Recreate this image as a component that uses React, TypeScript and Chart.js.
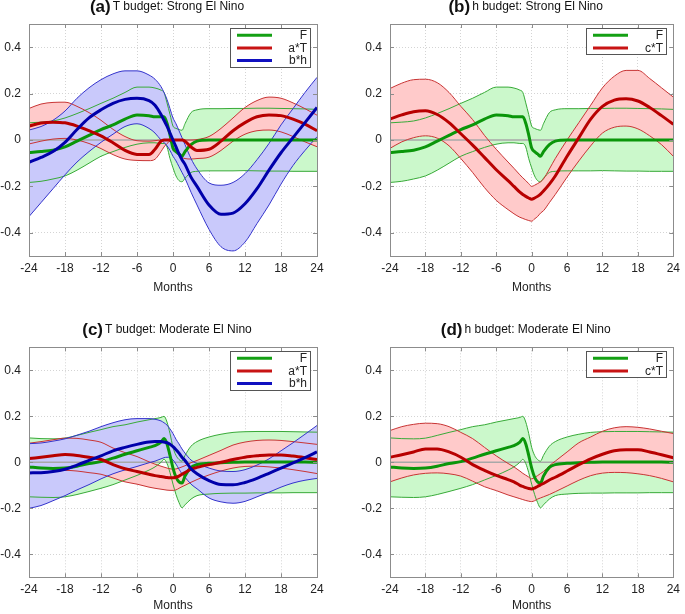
import React, { useEffect, useRef } from "react";
import { Chart, registerables } from "chart.js";
Chart.register(...registerables);

const FONT = '"Liberation Sans", Arial, Helvetica, sans-serif';

// ---------- data ----------
const months = [-24, -22, -20, -18, -16, -14, -12, -10, -8, -6, -4, -3, -2, -1.5, -1, -0.5, 0, 0.5, 1, 1.5, 2, 3, 4, 6, 8, 10, 12, 14, 16, 18, 20, 22, 24];
const xTicks = [-24, -18, -12, -6, 0, 6, 12, 18, 24];
const yTicks = [-0.4, -0.2, 0, 0.2, 0.4];

// Strong El Nino: forcing F (same in T and h budgets)
const fStrongMean = [-0.054, -0.05, -0.044, -0.03, -0.005, 0.02, 0.045, 0.065, 0.09, 0.108, 0.105, 0.1, 0.1, 0.1, 0.072, 0.022, -0.035, -0.05, -0.06, -0.07, -0.05, -0.02, -0.005, 0, 0, 0, 0, 0, 0, 0, 0, 0, 0];
const fStrongUpper = [0.074, 0.077, 0.082, 0.095, 0.114, 0.135, 0.158, 0.18, 0.205, 0.228, 0.228, 0.224, 0.215, 0.205, 0.16, 0.11, 0.06, 0.05, 0.045, 0.042, 0.07, 0.118, 0.13, 0.135, 0.135, 0.136, 0.136, 0.137, 0.137, 0.136, 0.135, 0.134, 0.132];
const fStrongLower = [-0.183, -0.178, -0.168, -0.155, -0.13, -0.1, -0.07, -0.05, -0.032, -0.018, -0.012, -0.012, -0.015, -0.015, -0.03, -0.08, -0.12, -0.155, -0.175, -0.18, -0.165, -0.14, -0.135, -0.133, -0.133, -0.133, -0.132, -0.133, -0.134, -0.134, -0.135, -0.135, -0.135];

// Strong El Nino: a*T (T budget)
const aTStrongMean = [0.06, 0.073, 0.077, 0.074, 0.06, 0.04, 0.018, -0.012, -0.045, -0.062, -0.063, -0.04, -0.005, 0, 0, 0, 0, 0, 0, 0, -0.005, -0.03, -0.045, -0.04, -0.005, 0.04, 0.075, 0.1, 0.108, 0.105, 0.09, 0.068, 0.04];
const aTStrongUpper = [0.136, 0.155, 0.162, 0.163, 0.145, 0.118, 0.085, 0.046, 0.015, -0.003, -0.005, -0.003, 0, 0, 0, 0, 0, 0, 0, 0, 0, 0, 0.002, 0.015, 0.05, 0.095, 0.14, 0.17, 0.185, 0.18, 0.16, 0.135, 0.107];
const aTStrongLower = [-0.017, -0.005, 0.004, 0.007, 0.0, -0.015, -0.037, -0.063, -0.082, -0.088, -0.089, -0.083, -0.05, -0.03, -0.015, -0.005, 0, -0.03, -0.06, -0.075, -0.08, -0.082, -0.08, -0.074, -0.045, -0.005, 0.025, 0.04, 0.043, 0.035, 0.015, -0.008, -0.029];

// Strong El Nino: b*h (T budget)
const bhStrongMean = [-0.096, -0.075, -0.05, -0.01, 0.045, 0.095, 0.13, 0.158, 0.175, 0.18, 0.17, 0.15, 0.11, 0.085, 0.06, 0.03, 0.0, -0.03, -0.06, -0.085, -0.105, -0.16, -0.2, -0.28, -0.32, -0.315, -0.275, -0.21, -0.13, -0.055, 0.01, 0.075, 0.14];
const bhStrongUpper = [0.043, 0.058, 0.085, 0.125, 0.18, 0.225, 0.26, 0.285, 0.298, 0.298, 0.28, 0.262, 0.23, 0.205, 0.175, 0.135, 0.095, 0.07, 0.04, 0.01, -0.02, -0.08, -0.125, -0.185, -0.195, -0.183, -0.145, -0.085, -0.015, 0.065, 0.135, 0.205, 0.27];
const bhStrongLower = [-0.33, -0.27, -0.21, -0.15, -0.095, -0.05, -0.01, 0.025, 0.058, 0.07, 0.05, 0.03, 0.0, -0.01, -0.025, -0.045, -0.07, -0.09, -0.115, -0.14, -0.165, -0.225, -0.28, -0.385, -0.46, -0.478, -0.44, -0.36, -0.28, -0.19, -0.11, -0.045, 0.014];

// Strong El Nino: c*T (h budget)
const cTStrongMean = [0.09, 0.108, 0.122, 0.126, 0.11, 0.075, 0.027, -0.022, -0.075, -0.128, -0.175, -0.2, -0.225, -0.235, -0.243, -0.25, -0.255, -0.25, -0.243, -0.233, -0.22, -0.19, -0.155, -0.07, 0.01, 0.09, 0.145, 0.172, 0.178, 0.168, 0.14, 0.105, 0.068];
const cTStrongUpper = [0.222, 0.245, 0.26, 0.262, 0.247, 0.205, 0.145, 0.088, 0.02, -0.04, -0.095, -0.122, -0.15, -0.163, -0.175, -0.188, -0.2, -0.195, -0.188, -0.18, -0.168, -0.125, -0.08, 0.0, 0.075, 0.15, 0.225, 0.275, 0.3, 0.3, 0.265, 0.225, 0.185];
const cTStrongLower = [-0.036, -0.008, 0.01, 0.018, 0.008, -0.025, -0.08, -0.14, -0.205, -0.26, -0.3, -0.318, -0.333, -0.338, -0.343, -0.347, -0.35, -0.34, -0.33, -0.315, -0.305, -0.27, -0.235, -0.16, -0.09, -0.025, 0.03, 0.055, 0.06, 0.048, 0.018, -0.02, -0.07];

// Moderate El Nino: forcing F
const fModMean = [-0.02, -0.025, -0.027, -0.025, -0.017, -0.005, 0.003, 0.018, 0.035, 0.05, 0.065, 0.072, 0.088, 0.103, 0.08, 0.03, -0.025, -0.065, -0.085, -0.09, -0.06, -0.022, -0.01, -0.004, -0.002, 0, 0.001, 0.001, 0.001, 0.001, 0.001, 0.001, 0.0];
const fModUpper = [0.106, 0.103, 0.102, 0.105, 0.117, 0.13, 0.142, 0.155, 0.163, 0.175, 0.185, 0.19, 0.195, 0.2, 0.175, 0.125, 0.065, 0.03, 0.012, 0.005, 0.03, 0.07, 0.09, 0.11, 0.122, 0.13, 0.133, 0.134, 0.134, 0.134, 0.133, 0.132, 0.131];
const fModLower = [-0.15, -0.152, -0.153, -0.15, -0.14, -0.127, -0.113, -0.097, -0.077, -0.057, -0.034, -0.02, 0.0, 0.013, -0.005, -0.045, -0.095, -0.14, -0.175, -0.198, -0.185, -0.16, -0.145, -0.138, -0.135, -0.134, -0.134, -0.133, -0.133, -0.133, -0.132, -0.132, -0.132];

// Moderate El Nino: a*T
const aTModMean = [0.016, 0.022, 0.028, 0.034, 0.03, 0.022, 0.012, -0.01, -0.028, -0.04, -0.052, -0.058, -0.062, -0.064, -0.066, -0.067, -0.067, -0.065, -0.06, -0.052, -0.045, -0.03, -0.022, -0.01, 0.0, 0.012, 0.022, 0.028, 0.032, 0.032, 0.027, 0.02, 0.012];
const aTModUpper = [0.083, 0.09, 0.098, 0.105, 0.104, 0.097, 0.087, 0.062, 0.042, 0.025, 0.002, -0.008, -0.017, -0.021, -0.025, -0.028, -0.03, -0.029, -0.025, -0.02, -0.015, -0.002, 0.008, 0.03, 0.052, 0.075, 0.088, 0.095, 0.097, 0.095, 0.09, 0.084, 0.078];
const aTModLower = [-0.049, -0.045, -0.04, -0.035, -0.038, -0.045, -0.052, -0.068, -0.085, -0.095, -0.108, -0.113, -0.117, -0.119, -0.121, -0.122, -0.122, -0.12, -0.113, -0.106, -0.1, -0.087, -0.075, -0.055, -0.038, -0.025, -0.018, -0.017, -0.02, -0.025, -0.032, -0.04, -0.049];

// Moderate El Nino: b*h
const bhModMean = [-0.046, -0.045, -0.04, -0.03, -0.012, 0.008, 0.028, 0.05, 0.065, 0.078, 0.088, 0.09, 0.09, 0.088, 0.085, 0.078, 0.068, 0.055, 0.04, 0.022, 0.008, -0.028, -0.05, -0.08, -0.097, -0.098, -0.088, -0.07, -0.048, -0.025, -0.003, 0.02, 0.045];
const bhModUpper = [0.081, 0.084, 0.092, 0.102, 0.118, 0.135, 0.155, 0.172, 0.185, 0.19, 0.19, 0.187, 0.18, 0.172, 0.162, 0.145, 0.125, 0.1, 0.08, 0.058, 0.04, 0.01, -0.005, -0.025, -0.038, -0.04, -0.032, -0.012, 0.015, 0.05, 0.085, 0.122, 0.16];
const bhModLower = [-0.2, -0.188, -0.167, -0.145, -0.12, -0.097, -0.072, -0.05, -0.033, -0.018, -0.002, 0.005, 0.015, 0.02, 0.022, 0.02, 0.01, -0.008, -0.03, -0.05, -0.065, -0.095, -0.115, -0.155, -0.172, -0.178, -0.17, -0.15, -0.13, -0.108, -0.09, -0.078, -0.07];

// Moderate El Nino: c*T
const cTModMean = [0.022, 0.033, 0.045, 0.058, 0.058, 0.045, 0.022, -0.01, -0.035, -0.057, -0.075, -0.085, -0.1, -0.105, -0.11, -0.114, -0.116, -0.112, -0.105, -0.098, -0.092, -0.077, -0.065, -0.038, -0.01, 0.015, 0.035, 0.05, 0.055, 0.055, 0.045, 0.033, 0.02];
const cTModUpper = [0.138, 0.155, 0.165, 0.17, 0.168, 0.155, 0.13, 0.103, 0.065, 0.028, -0.005, -0.02, -0.038, -0.048, -0.056, -0.064, -0.072, -0.066, -0.058, -0.049, -0.04, -0.015, 0.005, 0.045, 0.085, 0.11, 0.135, 0.15, 0.155, 0.152, 0.145, 0.135, 0.125];
const cTModLower = [-0.085, -0.068, -0.055, -0.048, -0.046, -0.05, -0.06, -0.082, -0.106, -0.123, -0.142, -0.15, -0.158, -0.162, -0.166, -0.169, -0.171, -0.167, -0.16, -0.155, -0.15, -0.14, -0.128, -0.103, -0.078, -0.058, -0.047, -0.044, -0.045, -0.05, -0.058, -0.07, -0.085];

// ---------- styles ----------
type Style = { line: string; edge: string; fill: string; key: string };
const GREEN: Style = { line: "#0a960a", edge: "#38aa38", fill: "#cbf8cb", key: "#14a014" };
const RED: Style = { line: "#b80000", edge: "#c83434", fill: "#ffcaca", key: "#c81414" };
const BLUE: Style = { line: "#0000aa", edge: "#3434cc", fill: "#c9c9fb", key: "#1010c0" };

type Series = { name: string; mean: number[]; upper: number[]; lower: number[]; style: Style };
type PanelDef = {
  tag: string; title: string; left: number; top: number; w: number; h: number;
  plot: { l: number; r: number; t: number; b: number }; monthsPad: number; series: Series[];
};

const panels: PanelDef[] = [
  {
    tag: "(a)", title: "T budget: Strong El Nino", left: 0, top: 0, w: 342, h: 307,
    plot: { l: 29, r: 317, t: 24, b: 256 }, monthsPad: 12.5,
    series: [
      { name: "F", mean: fStrongMean, upper: fStrongUpper, lower: fStrongLower, style: GREEN },
      { name: "a*T", mean: aTStrongMean, upper: aTStrongUpper, lower: aTStrongLower, style: RED },
      { name: "b*h", mean: bhStrongMean, upper: bhStrongUpper, lower: bhStrongLower, style: BLUE },
    ],
  },
  {
    tag: "(b)", title: "h budget: Strong El Nino", left: 342, top: 0, w: 343, h: 307,
    plot: { l: 48, r: 337, t: 24, b: 256 }, monthsPad: 12.5,
    series: [
      { name: "F", mean: fStrongMean, upper: fStrongUpper, lower: fStrongLower, style: GREEN },
      { name: "c*T", mean: cTStrongMean, upper: cTStrongUpper, lower: cTStrongLower, style: RED },
    ],
  },
  {
    tag: "(c)", title: "T budget: Moderate El Nino", left: 0, top: 307, w: 342, h: 307,
    plot: { l: 29, r: 317, t: 40.3, b: 270.3 }, monthsPad: 1.5,
    series: [
      { name: "F", mean: fModMean, upper: fModUpper, lower: fModLower, style: GREEN },
      { name: "a*T", mean: aTModMean, upper: aTModUpper, lower: aTModLower, style: RED },
      { name: "b*h", mean: bhModMean, upper: bhModUpper, lower: bhModLower, style: BLUE },
    ],
  },
  {
    tag: "(d)", title: "h budget: Moderate El Nino", left: 342, top: 307, w: 343, h: 307,
    plot: { l: 48, r: 337, t: 40.3, b: 270.3 }, monthsPad: 1.5,
    series: [
      { name: "F", mean: fModMean, upper: fModUpper, lower: fModLower, style: GREEN },
      { name: "c*T", mean: cTModMean, upper: cTModUpper, lower: cTModLower, style: RED },
    ],
  },
];

const pts = (arr: number[]) => months.map((m, i) => ({ x: m, y: arr[i] }));

function buildDatasets(p: PanelDef) {
  const top = [...p.series].reverse(); // last legend entry is drawn on top
  const ds: any[] = [];
  top.forEach((s) => {
    ds.push({
      label: s.name, data: pts(s.mean), borderColor: s.style.line, borderWidth: 3,
      fill: false, pointRadius: 0, cubicInterpolationMode: "monotone",
    });
  });
  top.forEach((s) => {
    ds.push({
      label: s.name + " upper", data: pts(s.upper), borderColor: s.style.edge, borderWidth: 1,
      backgroundColor: s.style.fill, fill: "+1", pointRadius: 0, cubicInterpolationMode: "monotone",
    });
    ds.push({
      label: s.name + " lower", data: pts(s.lower), borderColor: s.style.edge, borderWidth: 1,
      fill: false, pointRadius: 0, cubicInterpolationMode: "monotone",
    });
  });
  return ds;
}

function makePlugins(p: PanelDef) {
  const zeroLine = {
    id: "zeroLine",
    beforeDatasetsDraw(chart: any) {
      const { ctx, chartArea: a, scales } = chart;
      const y = scales.y.getPixelForValue(0);
      ctx.save();
      ctx.strokeStyle = "#a8a8a8";
      ctx.lineWidth = 1.5;
      ctx.beginPath();
      ctx.moveTo(a.left, y);
      ctx.lineTo(a.right, y);
      ctx.stroke();
      ctx.restore();
    },
  };
  const frame = {
    id: "frame",
    afterDatasetsDraw(chart: any) {
      const { ctx, chartArea: a, scales } = chart;
      ctx.save();
      ctx.strokeStyle = "#8c8c8c";
      ctx.lineWidth = 1;
      ctx.beginPath();
      xTicks.forEach((v) => {
        const x = Math.round(scales.x.getPixelForValue(v)) + 0.5;
        ctx.moveTo(x, a.bottom); ctx.lineTo(x, a.bottom - 4);
        ctx.moveTo(x, a.top); ctx.lineTo(x, a.top + 4);
      });
      yTicks.forEach((v) => {
        const y = Math.round(scales.y.getPixelForValue(v)) + 0.5;
        ctx.moveTo(a.left, y); ctx.lineTo(a.left + 4, y);
        ctx.moveTo(a.right, y); ctx.lineTo(a.right - 4, y);
      });
      ctx.stroke();
      ctx.strokeRect(Math.round(a.left) + 0.5, Math.round(a.top) + 0.5, Math.round(a.right - a.left), Math.round(a.bottom - a.top));
      ctx.restore();
    },
  };
  const titleAndLegend = {
    id: "titleAndLegend",
    afterDraw(chart: any) {
      const { ctx, chartArea: a } = chart;
      ctx.save();
      // title
      ctx.font = `bold 17px ${FONT}`;
      const w1 = ctx.measureText(p.tag).width;
      ctx.font = `12px ${FONT}`;
      const w2 = ctx.measureText(p.title).width;
      const total = w1 + 2 + w2;
      const x0 = (a.left + a.right) / 2 - 6 - total / 2;
      ctx.fillStyle = "#111";
      ctx.textBaseline = "alphabetic";
      ctx.textAlign = "left";
      ctx.font = `bold 17px ${FONT}`;
      ctx.fillText(p.tag, x0, a.top - 12);
      ctx.font = `12px ${FONT}`;
      ctx.fillText(p.title, x0 + w1 + 2, a.top - 14.5);
      // legend
      const n = p.series.length;
      const rowH = 12.6;
      const bw = 80;
      const bh = Math.round(n * rowH + 1);
      const bx = Math.round(a.right - 7 - bw);
      const by = Math.round(a.top + 4);
      ctx.fillStyle = "#fff";
      ctx.fillRect(bx, by, bw, bh);
      ctx.strokeStyle = "#555";
      ctx.lineWidth = 1;
      ctx.strokeRect(bx + 0.5, by + 0.5, bw, bh);
      p.series.forEach((s, i) => {
        const cy = by + 1 + rowH * (i + 0.5);
        ctx.strokeStyle = s.style.key;
        ctx.lineWidth = 3;
        ctx.beginPath();
        ctx.moveTo(bx + 7, cy);
        ctx.lineTo(bx + 42, cy);
        ctx.stroke();
        ctx.fillStyle = "#222";
        ctx.font = `12px ${FONT}`;
        ctx.textAlign = "right";
        ctx.textBaseline = "middle";
        ctx.fillText(s.name, bx + bw - 3, cy + 0.5);
      });
      ctx.restore();
    },
  };
  return [zeroLine, frame, titleAndLegend];
}

function Panel({ p }: { p: PanelDef }) {
  const ref = useRef<HTMLCanvasElement | null>(null);
  useEffect(() => {
    const canvas = ref.current;
    if (!canvas) return;
    const tickFont = { family: FONT, size: 12 };
    const chart = new Chart(canvas, {
      type: "line",
      data: { datasets: buildDatasets(p) },
      options: {
        responsive: false,
        animation: false,
        devicePixelRatio: 1,
        events: [],
        layout: { padding: { left: 0, top: p.plot.t, right: p.w - p.plot.r, bottom: 0 } },
        plugins: {
          legend: { display: false },
          tooltip: { enabled: false },
          title: { display: false },
          filler: { drawTime: "beforeDatasetsDraw", propagate: false },
        },
        scales: {
          x: {
            type: "linear",
            min: -24,
            max: 24,
            afterBuildTicks: (s: any) => { s.ticks = xTicks.map((v) => ({ value: v })); },
            afterFit: (s: any) => { s.height = p.h - p.plot.b; },
            ticks: { font: tickFont, color: "#222", padding: 5, maxRotation: 0, autoSkip: false, callback: (v: any) => String(v) },
            grid: { color: "#d4d4d4", lineWidth: 1, drawTicks: false },
            border: { display: false, dash: [1, 2] },
            title: { display: true, text: "Months", font: tickFont, color: "#222", padding: { top: 0, bottom: p.monthsPad } },
          },
          y: {
            type: "linear",
            min: -0.5,
            max: 0.5,
            afterBuildTicks: (s: any) => { s.ticks = yTicks.map((v) => ({ value: v })); },
            afterFit: (s: any) => { s.width = p.plot.l; },
            ticks: { font: tickFont, color: "#222", padding: 8, callback: (v: any) => (v === 0 ? "0" : String(v)) },
            grid: { color: "#d4d4d4", lineWidth: 1, drawTicks: false },
            border: { display: false, dash: [1, 2] },
          },
        },
      } as any,
      plugins: makePlugins(p),
    });
    return () => chart.destroy();
  }, [p]);
  return (
    <canvas
      ref={ref}
      width={p.w}
      height={p.h}
      style={{ position: "absolute", left: p.left, top: p.top, width: p.w, height: p.h }}
    />
  );
}

export default function App() {
  return (
    <div style={{ position: "absolute", left: 0, top: 0, width: 685, height: 614, background: "#fff", overflow: "hidden" }}>
      {panels.map((p) => (
        <Panel key={p.tag} p={p} />
      ))}
    </div>
  );
}
